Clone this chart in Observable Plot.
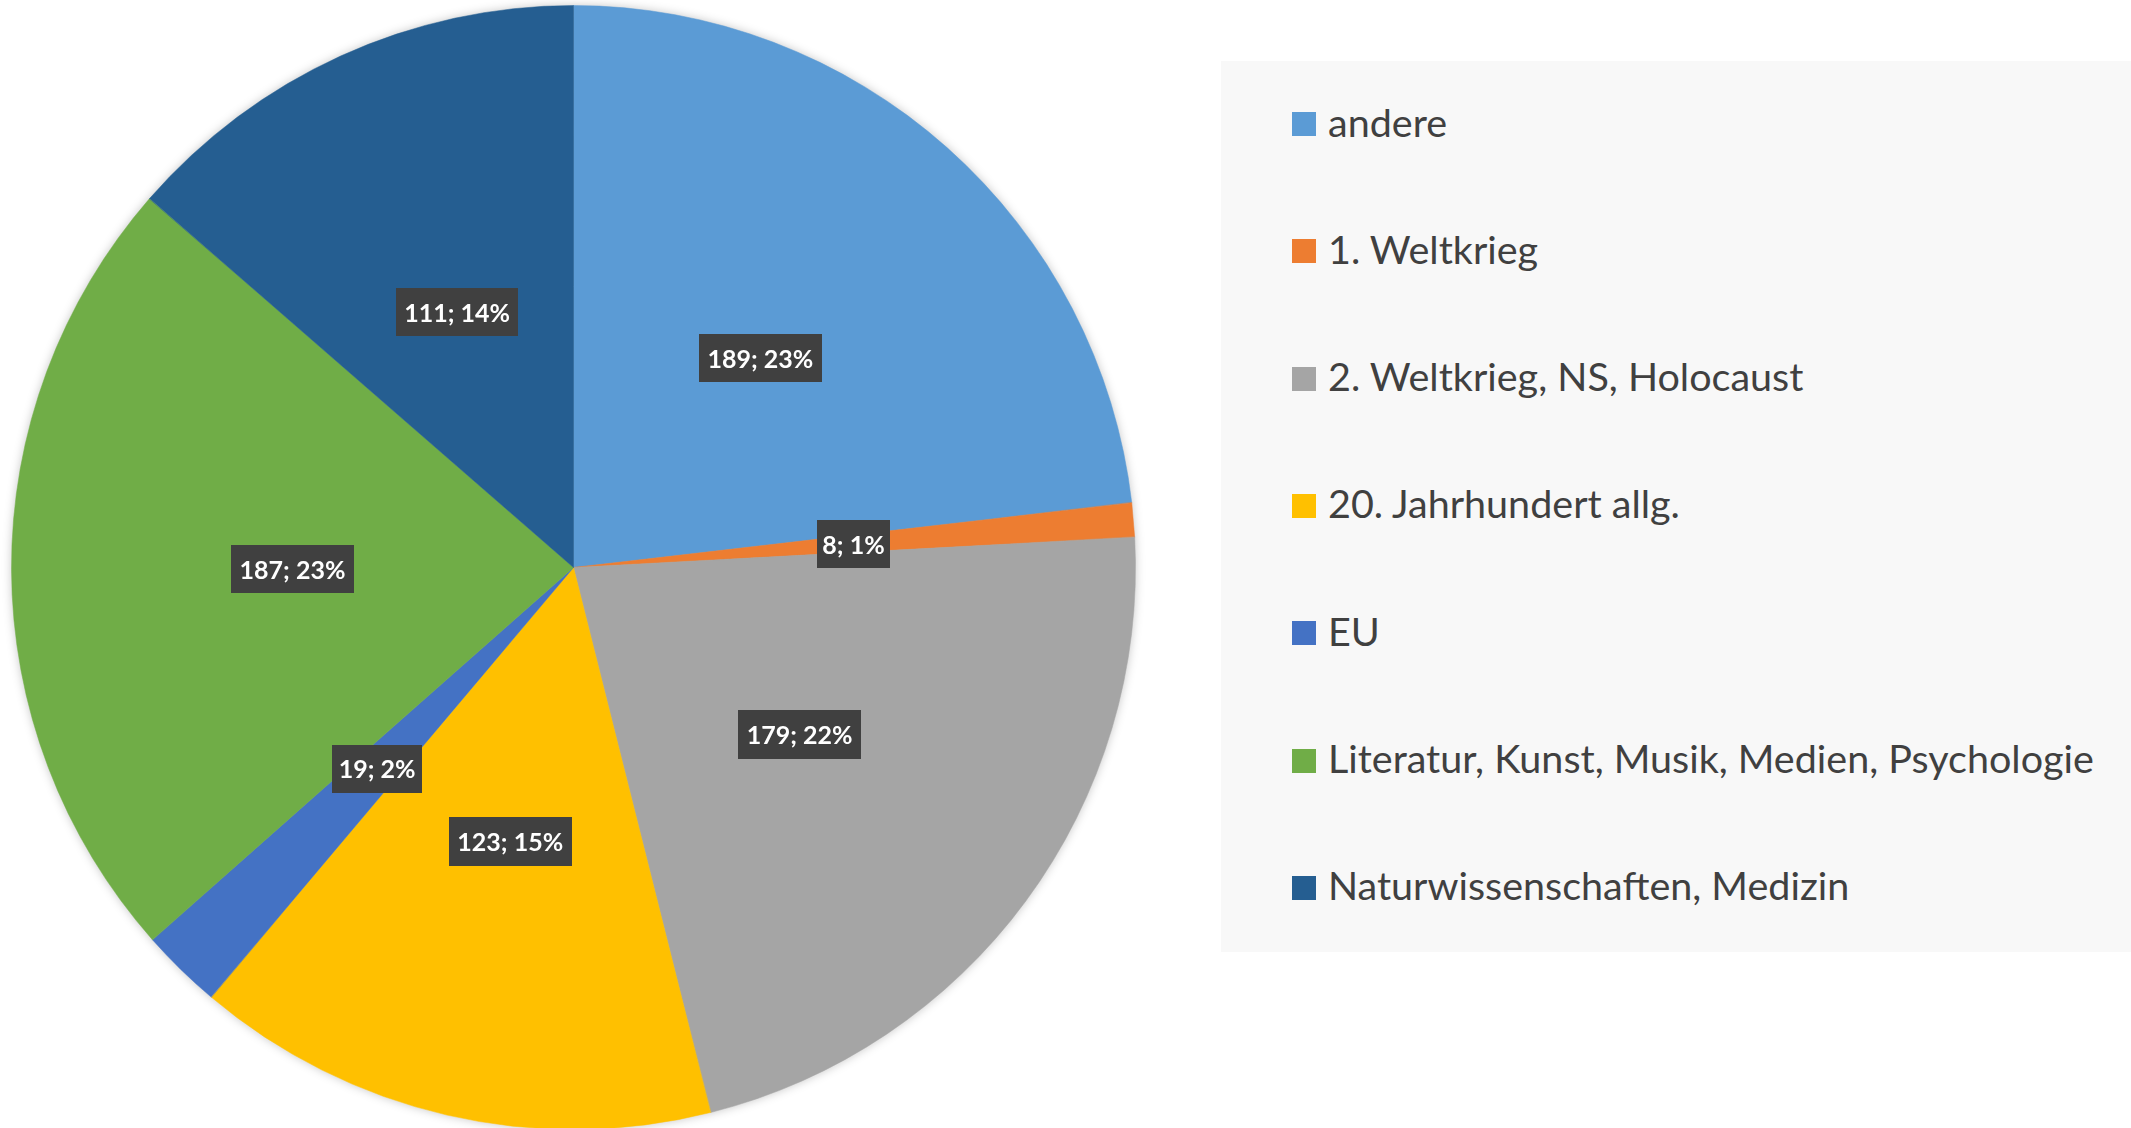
<!DOCTYPE html>
<html>
<head>
<meta charset="utf-8">
<script src="https://cdn.jsdelivr.net/npm/d3@7"></script>
<script src="https://cdn.jsdelivr.net/npm/@observablehq/plot@0.6"></script>
<style>
  html, body { margin: 0; padding: 0; background: #ffffff; overflow: hidden; }
  #chart { position: absolute; left: 0; top: 0; }
  #chart svg { overflow: visible; }
  .slices { filter: drop-shadow(0px 0px 5px rgba(0,0,0,0.22)); }
  .lbl text { filter: url(#labelbox); }
  #legend {
    position: absolute; left: 1221px; top: 61px; width: 910px; height: 891px;
    background: #f8f8f8; font-family: Lato, "Open Sans", sans-serif; font-size: 39.5px; color: #404040;
  }
  .item { position: absolute; left: 71px; height: 40px; display: flex; align-items: center; white-space: nowrap; }
  .item span { position: relative; top: -3px; }
  .sw { width: 24px; height: 24px; margin-right: 12px; flex: none; }
</style>
</head>
<body>
<svg width="0" height="0" style="position:absolute">
  <defs>
    <filter id="labelbox" x="-0.3" y="-0.8" width="1.7" height="2.8" primitiveUnits="objectBoundingBox" color-interpolation-filters="sRGB">
      <feFlood x="-0.075" y="-0.28" width="1.15" height="1.58" flood-color="#000000" flood-opacity="0.45" result="sh0"/>
      <feOffset in="sh0" dx="0.03" dy="0.12" result="sh1"/>
      <feGaussianBlur in="sh1" stdDeviation="0.025 0.08" result="sh2"/>
      <feFlood x="-0.075" y="-0.28" width="1.15" height="1.58" flood-color="#404040" result="bg"/>
      <feMerge>
        <feMergeNode in="sh2"/>
        <feMergeNode in="bg"/>
        <feMergeNode in="SourceGraphic"/>
      </feMerge>
    </filter>
  </defs>
</svg>
<div id="chart"></div>
<div id="legend"></div>
<script>
const categories = [
  "andere",
  "1. Weltkrieg",
  "2. Weltkrieg, NS, Holocaust",
  "20. Jahrhundert allg.",
  "EU",
  "Literatur, Kunst, Musik, Medien, Psychologie",
  "Naturwissenschaften, Medizin"
];
const values = [189, 8, 179, 123, 19, 187, 111];
const colors = ["#5B9BD5", "#ED7D31", "#A5A5A5", "#FFC000", "#4472C4", "#70AD47", "#255E91"];

const rows = categories.map((c, i) => ({category: c, value: values[i]}));
const total = d3.sum(values);
const arcs = d3.pie().sort(null).value(d => d.value)(rows);
const lon = a => 180 - a * 180 / Math.PI;

const features = arcs.map(a => {
  let ring = [[lon(a.startAngle), 0], [lon(a.endAngle), 0], [0, 90], [lon(a.startAngle), 0]];
  let f = {type: "Feature", properties: {category: a.data.category}, geometry: {type: "Polygon", coordinates: [ring]}};
  if (d3.geoArea(f) > 2 * Math.PI) {
    f.geometry.coordinates = [ring.slice().reverse()];
  }
  return f;
});

const domainCircle = d3.geoCircle().center([0, 90]).radius(90)();

const chart = Plot.plot({
  width: 1146,
  height: 1130,
  margin: 0,
  projection: {
    type: "azimuthal-equidistant",
    rotate: [0, -90],
    domain: domainCircle,
    insetLeft: 11, insetRight: 11, insetTop: 5, insetBottom: 1
  },
  color: {domain: categories, range: colors},
  marks: [
    Plot.geo(features, {
      fill: d => d.properties.category,
      stroke: d => d.properties.category,
      strokeWidth: 0.5,
      className: "slices"
    }),
    Plot.text(arcs, {
      x: d => lon((d.startAngle + d.endAngle) / 2),
      y: 45,
      dy: 2,
      text: d => `${d.data.value}; ${Math.round(d.data.value / total * 100)}%`,
      fill: "white",
      fontSize: 25,
      fontWeight: "bold",
      fontFamily: "Lato, 'Open Sans', sans-serif",
      className: "lbl"
    })
  ]
});
document.getElementById("chart").appendChild(chart);

const legend = document.getElementById("legend");
const itemCenters0 = 63, itemStep = 127.3;
categories.forEach((c, i) => {
  const it = document.createElement("div");
  it.className = "item";
  it.style.top = (itemCenters0 + i * itemStep - 20) + "px";
  const sw = document.createElement("div");
  sw.className = "sw";
  sw.style.background = colors[i];
  const tx = document.createElement("span");
  tx.textContent = c;
  it.appendChild(sw);
  it.appendChild(tx);
  legend.appendChild(it);
});
</script>
</body>
</html>
